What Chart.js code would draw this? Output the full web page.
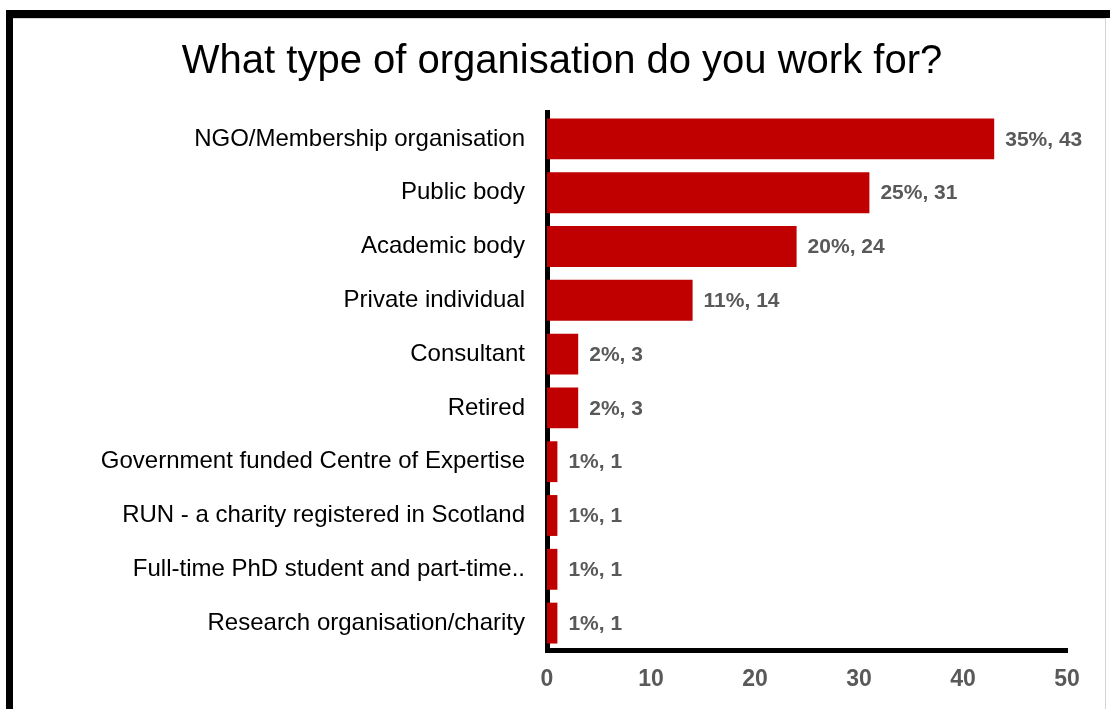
<!DOCTYPE html>
<html>
<head>
<meta charset="utf-8">
<script src="https://cdn.jsdelivr.net/npm/chart.js@4"></script>
<style>
  html, body { margin: 0; padding: 0; background: #fff; overflow: hidden; }
  #frame {
    position: absolute; left: 6px; top: 10px; width: 1110px; height: 760px;
    border-top: 8px solid #000; border-left: 7px solid #000;
  }
  #inner {
    position: absolute; left: 13px; top: 18px; width: 1092px; height: 760px;
    border-top: 1px solid #d4d4d4; border-right: 1px solid #d4d4d4;
  }
  #myChart { position: absolute; left: 0; top: 0; }
</style>
</head>
<body>
<div id="frame"></div>
<div id="inner"></div>
<canvas id="myChart" width="1110" height="709"></canvas>
<script>
const chartTitle = 'What type of organisation do you work for?'

const categories = [
  'NGO/Membership organisation',
  'Public body',
  'Academic body',
  'Private individual',
  'Consultant',
  'Retired',
  'Government funded Centre of Expertise',
  'RUN - a charity registered in Scotland',
  'Full-time PhD student and part-time..',
  'Research organisation/charity'
]
const counts = [43, 31, 24, 14, 3, 3, 1, 1, 1, 1]
const percents = ['35%', '25%', '20%', '11%', '2%', '2%', '1%', '1%', '1%', '1%']

const xTicks = [0, 10, 20, 30, 40, 50]

// title drawn by hand so it can sit slightly right of centre
const titlePlugin = {
  id: 'titleText',
  afterDraw(chart) {
    const c = chart.ctx
    c.save()
    c.font = '40px "Liberation Sans", Arial, sans-serif'
    c.fillStyle = '#000'
    c.textAlign = 'center'
    c.textBaseline = 'alphabetic'
    c.fillText(chartTitle, 562, 73)
    c.restore()
  }
}

// "pct, count" next to the end of every bar
const barLabels = {
  id: 'barLabels',
  afterDatasetsDraw(chart) {
    const c = chart.ctx
    const meta = chart.getDatasetMeta(0)
    c.save()
    c.font = 'bold 21px "Liberation Sans", Arial, sans-serif'
    c.fillStyle = '#595959'
    c.textAlign = 'left'
    c.textBaseline = 'middle'
    meta.data.forEach(function(bar, i) {
      c.fillText(percents[i] + ', ' + counts[i], bar.x + 11, bar.y + 1)
    })
    c.restore()
  }
}

const ctx = document.getElementById('myChart').getContext('2d')
const myChart = new Chart(ctx, {
  type: 'bar',
  data: {
    labels: categories,
    datasets: [{
      data: counts,
      backgroundColor: '#C00000',
      categoryPercentage: 1,
      barPercentage: 0.76
    }]
  },
  options: {
    indexAxis: 'y',
    responsive: false,
    animation: false,
    devicePixelRatio: 1,
    layout: { padding: { left: 0, right: 43, top: 112, bottom: 0 } },
    plugins: {
      legend: { display: false },
      title: { display: false },
      tooltip: { enabled: false }
    },
    scales: {
      x: {
        min: 0,
        max: 50,
        afterFit(scale) { scale.height = 59 },
        afterBuildTicks(scale) { scale.ticks = xTicks.map(v => ({ value: v })) },
        grid: { display: false, drawTicks: false },
        border: { display: true, color: '#000', width: 5 },
        ticks: {
          color: '#595959',
          padding: 16,
          font: { family: '"Liberation Sans", Arial, sans-serif', size: 23, weight: 'bold' }
        }
      },
      y: {
        afterFit(scale) { scale.width = 547 },
        grid: { display: false, drawTicks: false },
        border: { display: true, color: '#000', width: 5 },
        ticks: {
          color: '#000',
          padding: 22,
          font: { family: '"Liberation Sans", Arial, sans-serif', size: 24 }
        }
      }
    }
  },
  plugins: [titlePlugin, barLabels]
})
</script>
</body>
</html>
